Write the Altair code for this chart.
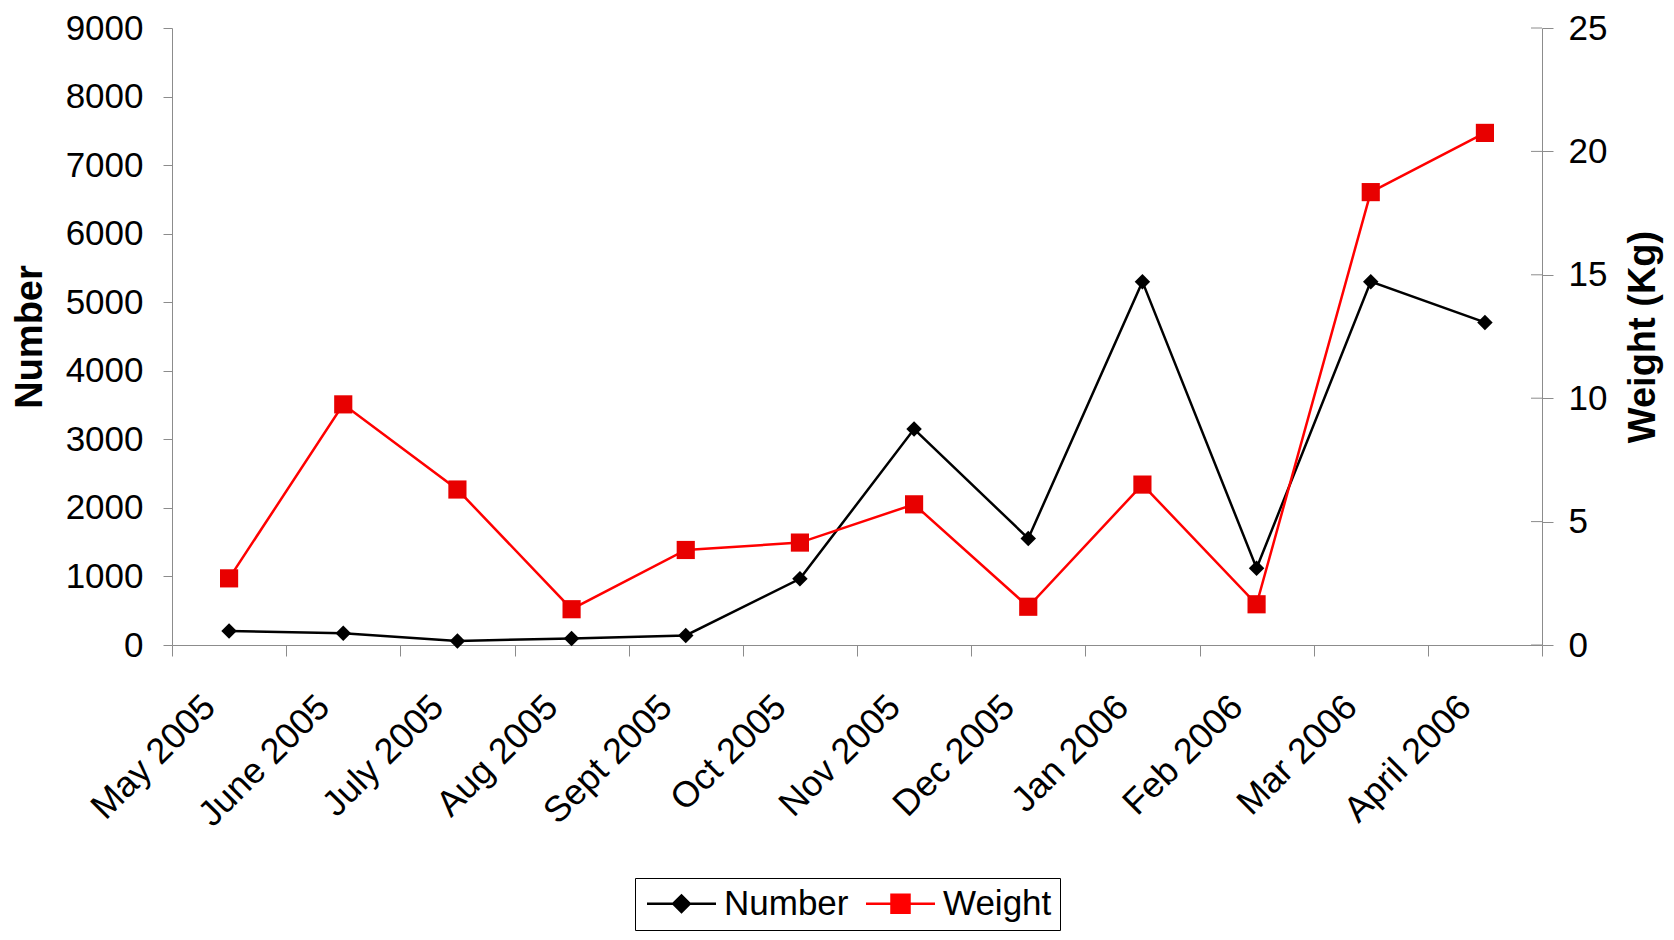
import altair as alt
import pandas as pd

months = ["May 2005", "June 2005", "July 2005", "Aug 2005", "Sept 2005", "Oct 2005",
          "Nov  2005", "Dec 2005", "Jan 2006", "Feb 2006", "Mar 2006", "April 2006"]
number = [205, 170, 60, 95, 140, 965, 3150, 1555, 5300, 1120, 5300, 4705]
weight = [2.7, 9.75, 6.3, 1.45, 3.85, 4.15, 5.7, 1.55, 6.5, 1.65, 18.35, 20.75]
series = ["Number", "Weight"]
series_colors = ["#000000", "#FF0000"]
number_ticks = [0, 1000, 2000, 3000, 4000, 5000, 6000, 7000, 8000, 9000]
weight_ticks = [0, 5, 10, 15, 20, 25]

FONT = "Liberation Sans"
GRAY = "#8c8c8c"
W, H = 1370, 617

df = pd.DataFrame({"Month": months, "Number": number, "Weight": weight})
leg_df = pd.DataFrame({"Series": series, "Month": [months[0]] * len(series)})
wt_df = pd.DataFrame({"Weight": weight_ticks})

x_enc = alt.X(
    "Month:N",
    sort=months,
    scale=alt.Scale(type="band", paddingInner=0, paddingOuter=0),
    axis=alt.Axis(
        title=None, labelAngle=-45, labelFontSize=36, labelFont=FONT, labelColor="black",
        tickBand="extent", tickSize=11, tickColor=GRAY, domainColor=GRAY,
        labelPadding=33, labelOffset=-32, grid=False, labelOverlap=False,
    ),
)

num_y = alt.Y(
    "Number:Q",
    scale=alt.Scale(domain=[0, 9000], nice=False),
    axis=alt.Axis(
        title="Number", values=number_ticks, format="d", labelFontSize=35, labelFont=FONT,
        labelColor="black", tickSize=9, tickColor=GRAY, domainColor=GRAY,
        labelPadding=20, grid=False, titleFont=FONT, titleFontSize=38,
        titleFontWeight="bold", titlePadding=16, titleColor="black",
    ),
)

w_y = alt.Y(
    "Weight:Q",
    scale=alt.Scale(domain=[0, 25], nice=False),
    axis=alt.Axis(
        title="Weight (Kg)", orient="right", values=weight_ticks, format="d",
        labelFontSize=35, labelFont=FONT, labelColor="black", tickSize=11,
        tickColor=GRAY, domainColor=GRAY, labelPadding=15, grid=False,
        titleFont=FONT, titleFontSize=38, titleFontWeight="bold", titlePadding=18,
        titleColor="black", titleAngle=270, titleBaseline="top",
    ),
)

base = alt.Chart(df)

num_layer = alt.layer(
    base.mark_line(color="#000000", strokeWidth=2.5).encode(x=x_enc, y=num_y),
    base.mark_point(shape="diamond", filled=True, size=240, color="#000000", opacity=1).encode(x=x_enc, y=num_y),
)

# inner half of the crossing ticks on the right axis
w_inner_ticks = alt.Chart(wt_df).mark_rule(color=GRAY, strokeWidth=1).encode(
    y=alt.Y("Weight:Q"), x=alt.value(W - 11), x2=alt.value(W)
)

w_layer = alt.layer(
    base.mark_line(color="#FF0000", strokeWidth=2.5).encode(x=x_enc, y=w_y),
    base.mark_point(shape="square", filled=True, size=330, color="#E80000", opacity=1).encode(x=x_enc, y=w_y),
    w_inner_ticks,
)

num_path = ("M-2.3,0L2.3,0"
            "M-0.55,0L0,-0.55L0.55,0L0,0.55Z"
            "M-0.42,0L0,-0.42L0.42,0L0,0.42Z"
            "M-0.29,0L0,-0.29L0.29,0L0,0.29Z"
            "M-0.16,0L0,-0.16L0.16,0L0,0.16Z"
            "M0,-0.05L0,0.05")
w_path = ("M-2.3,0L2.3,0"
          "M-0.6,-0.6L0.6,-0.6L0.6,0.6L-0.6,0.6Z"
          "M-0.47,-0.47L0.47,-0.47L0.47,0.47L-0.47,0.47Z"
          "M-0.34,-0.34L0.34,-0.34L0.34,0.34L-0.34,0.34Z"
          "M-0.21,-0.21L0.21,-0.21L0.21,0.21L-0.21,0.21Z"
          "M-0.08,-0.08L0.08,-0.08L0.08,0.08L-0.08,0.08Z")

legend = alt.Legend(
    title=None, orient="none", direction="horizontal", legendX=463, legendY=850,
    labelFontSize=35, labelFont=FONT, labelColor="black", symbolSize=900,
    symbolStrokeWidth=2.5, symbolOffset=21, labelOffset=25, columnPadding=12,
    strokeColor="black", padding=8, fillColor="white",
    labelExpr="datum.label == 'Weight' ? datum.label + '\u00a0\u00a0\u00a0' : datum.label",
)

leg_layer = alt.Chart(leg_df).mark_point(filled=True, opacity=0).encode(
    x=alt.X("Month:N", sort=months),
    fill=alt.Fill("Series:N", scale=alt.Scale(domain=series, range=series_colors), legend=legend),
    stroke=alt.Stroke("Series:N", scale=alt.Scale(domain=series, range=series_colors), legend=legend),
    shape=alt.Shape("Series:N", scale=alt.Scale(domain=series, range=[num_path, w_path]), legend=legend),
)

chart = alt.layer(num_layer, w_layer, leg_layer).resolve_scale(
    y="independent"
).properties(
    width=W, height=H, background="white",
    padding={"top": 3, "left": 3, "right": 2, "bottom": 0},
).configure_view(strokeWidth=0)

chart.save("out.html", embed_options={"renderer": "svg", "actions": False})
